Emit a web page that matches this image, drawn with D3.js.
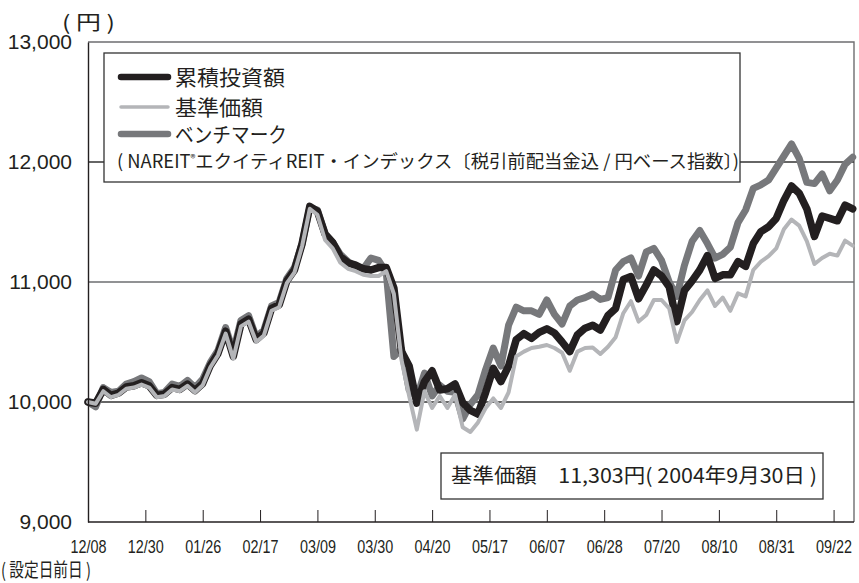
<!DOCTYPE html>
<html>
<head>
<meta charset="utf-8">
<script src="https://cdn.jsdelivr.net/npm/d3@7"></script>
<style>
  body { margin: 0; background: #fff; }
  text { fill: #231f20; }
</style>
</head>
<body>
<svg id="chart" width="859" height="583"></svg>
<script>
// trading-day index of each point (every 2nd day from the day before launch)
var days = d3.range(0, 201, 2);

// x tick positions (every 15 trading days) and their labels
var tickDays = d3.range(0, 196, 15);
var tickLabels = ["12/08","12/30","01/26","02/17","03/09","03/30","04/20",
                  "05/17","06/07","06/28","07/20","08/10","08/31","09/22"];

var yTicks = [9000, 10000, 11000, 12000, 13000];

// 基準価額
var nav = [
  10000, 9985, 10090, 10040, 10060, 10110, 10120, 10145, 10120, 10040,
  10050, 10105, 10090, 10135, 10080, 10140, 10290, 10390, 10570, 10360,
  10630, 10670, 10500, 10555, 10760, 10790, 10990, 11080, 11300, 11610,
  11560, 11350, 11280, 11160, 11110, 11090, 11060, 11050, 11050, 11090,
  10900, 10350, 10050, 9770, 10090, 9950, 10050, 9950, 10060, 9790,
  9750, 9830, 9950, 10030, 9950, 10080, 10380, 10420, 10450, 10460,
  10475, 10450, 10410, 10260, 10420, 10450, 10455, 10400, 10460, 10540,
  10740, 10840, 10670, 10725, 10850, 10850, 10780, 10500, 10680, 10750,
  10850, 10930, 10800, 10870, 10760, 10905, 10880, 11100, 11170, 11215,
  11280, 11440, 11520, 11470, 11340, 11150, 11200, 11235, 11220, 11345,
  11303
];

// 累積投資額
var cumul = [
  10000, 9990, 10105, 10055, 10075, 10125, 10135, 10160, 10135, 10055,
  10065, 10120, 10105, 10150, 10095, 10155, 10305, 10405, 10590, 10380,
  10650, 10690, 10520, 10575, 10780, 10810, 11010, 11100, 11320, 11630,
  11590, 11400, 11330, 11210, 11160, 11140, 11110, 11100, 11120, 11120,
  10950, 10420, 10300, 9990, 10170, 10260, 10100, 10110, 10150, 9995,
  9930, 9900, 10080, 10280, 10170, 10300, 10520, 10570, 10530, 10580,
  10610, 10575, 10500, 10420, 10560, 10615, 10640, 10600, 10720, 10780,
  11020, 11045, 10860, 10975, 11100, 11050, 10960, 10670, 10930, 11010,
  11100, 11220, 11030, 11060, 11060, 11170, 11130, 11320, 11420, 11460,
  11530, 11680, 11800, 11740, 11610, 11380, 11550, 11530, 11510, 11640,
  11610
];

// ベンチマーク
var bench = [
  10000, 9960, 10120, 10080, 10090, 10150, 10170, 10200, 10170, 10070,
  10080, 10150, 10130, 10180, 10120, 10190, 10330, 10430, 10620, 10420,
  10680, 10720, 10540, 10600, 10800, 10830, 11030, 11120, 11320, 11620,
  11600, 11400, 11330, 11230, 11170, 11130, 11110, 11200, 11180, 11080,
  10380, 10440, 10100, 10040, 10240, 10050, 10140, 10090, 10080, 9860,
  9980, 10060, 10270, 10450, 10300, 10640, 10790, 10760, 10760, 10730,
  10850, 10730, 10650, 10800, 10850, 10870, 10900, 10855, 10870, 11100,
  11170, 11200, 11050, 11250, 11280, 11180, 11000, 10880, 11140, 11340,
  11430, 11320, 11200, 11230, 11290, 11495, 11600, 11780, 11810, 11850,
  11950, 12050, 12150, 12030, 11830, 11820, 11900, 11760, 11850, 11980,
  12040
];

var ink = "#231f20", navCol = "#b4b5b8", benchCol = "#77787b";
var jp = "'Noto Sans CJK JP', 'Noto Sans', sans-serif";
var latin = "'Liberation Sans', Arial, sans-serif";
var narrow = "'Liberation Sans Narrow', 'Liberation Sans', Arial, sans-serif";

var svg = d3.select("#chart");
// plot edges (window.top is reserved, so these get a prefix)
var pLeft = 88, pRight = 854, pTop = 42, pBottom = 522;

var x = d3.scaleLinear().domain([0, 200]).range([pLeft, 852.7]);
var y = d3.scaleLinear().domain([9000, 13000]).range([pBottom, pTop]);

// frame (top and right) and grid
svg.append("path")
  .attr("d", "M" + pLeft + "," + pTop + "H" + pRight + "V" + pBottom)
  .attr("fill", "none").attr("stroke", "#6d6e70").attr("stroke-width", 1.4);

svg.append("g").selectAll("line")
  .data([10000, 11000, 12000]).enter()
  .append("line")
  .attr("x1", pLeft).attr("x2", pRight)
  .attr("y1", function(d){ return y(d); })
  .attr("y2", function(d){ return y(d); })
  .attr("stroke", function(d){ return d == 11000 ? "#6d6e70" : "#333"; })
  .attr("stroke-width", 1.3);

// series lines
var line = d3.line()
  .x(function(d, i){ return x(days[i]); })
  .y(function(d){ return y(d); });

var series = [
  {v: bench, c: benchCol, w: 7},
  {v: cumul, c: ink, w: 7.5},
  {v: nav,   c: navCol, w: 4}
];
svg.append("g").selectAll("path")
  .data(series).enter()
  .append("path")
  .attr("d", function(d){ return line(d.v); })
  .attr("fill", "none")
  .attr("stroke", function(d){ return d.c; })
  .attr("stroke-width", function(d){ return d.w; })
  .attr("stroke-linejoin", "round")
  .attr("stroke-linecap", "round");

// axes
var xAxis = d3.axisBottom(x)
  .tickValues(tickDays)
  .tickFormat(function(d, i){ return tickLabels[i]; })
  .tickSizeInner(-12).tickSizeOuter(0).tickPadding(18);
var gx = svg.append("g").attr("transform", "translate(0," + pBottom + ")").call(xAxis);
gx.select(".domain").attr("stroke", ink).attr("stroke-width", 1.4)
  .attr("d", "M" + pLeft + ",0H" + pRight);
gx.selectAll(".tick line").attr("stroke", ink).attr("stroke-width", 1);
gx.selectAll(".tick text")
  .attr("font-family", narrow).attr("font-size", 19).attr("fill", ink)
  .attr("textLength", 36).attr("lengthAdjust", "spacingAndGlyphs");

var yAxis = d3.axisLeft(y)
  .tickValues(yTicks)
  .tickFormat(d3.format(","))
  .tickSize(0).tickPadding(16);
var gy = svg.append("g").attr("transform", "translate(" + pLeft + ",0)").call(yAxis);
gy.select(".domain").attr("stroke", ink).attr("stroke-width", 1.4);
gy.selectAll(".tick text")
  .attr("font-family", latin).attr("font-size", 21).attr("fill", ink);

// legend
var lg = svg.append("g");
lg.append("rect")
  .attr("x", 104).attr("y", 53).attr("width", 636).attr("height", 129)
  .attr("fill", "#fff").attr("stroke", "#333").attr("stroke-width", 1.3);

var legendItems = [
  {t: "累積投資額", c: ink, w: 6.5, y: 77, len: 110},
  {t: "基準価額",   c: navCol, w: 3.5, y: 107, len: 88},
  {t: "ベンチマーク", c: benchCol, w: 6.5, y: 134, len: 112}
];
legendItems.forEach(function(d){
  lg.append("line")
    .attr("x1", 121).attr("x2", 168).attr("y1", d.y).attr("y2", d.y)
    .attr("stroke", d.c).attr("stroke-width", d.w).attr("stroke-linecap", "round");
  lg.append("text")
    .attr("x", 175).attr("y", d.y).attr("dy", "0.36em")
    .attr("font-family", jp).attr("font-size", 21)
    .attr("textLength", d.len).attr("lengthAdjust", "spacingAndGlyphs")
    .text(d.t);
});
var sub = lg.append("text")
  .attr("x", 117).attr("y", 162).attr("dy", "0.36em")
  .attr("font-family", jp).attr("font-size", 18)
  .attr("textLength", 622).attr("lengthAdjust", "spacingAndGlyphs");
sub.append("tspan").text("( NAREIT");
sub.append("tspan").attr("font-size", 10).attr("baseline-shift", "60%").text("®");
sub.append("tspan").text("エクイティREIT・インデックス〔税引前配当金込 / 円ベース指数〕)");

// NAV note
svg.append("rect")
  .attr("x", 441).attr("y", 453).attr("width", 382).attr("height", 46)
  .attr("fill", "#fff").attr("stroke", "#333").attr("stroke-width", 1.3);
svg.append("text")
  .attr("x", 451).attr("y", 476).attr("dy", "0.36em")
  .attr("font-family", jp).attr("font-size", 20)
  .attr("textLength", 366).attr("lengthAdjust", "spacingAndGlyphs")
  .text("基準価額　11,303円( 2004年9月30日 )");

// unit and x caption
svg.append("text")
  .attr("x", 62).attr("y", 23).attr("dy", "0.36em")
  .attr("font-family", jp).attr("font-size", 20)
  .attr("textLength", 53).attr("lengthAdjust", "spacingAndGlyphs")
  .text("( 円 )");
svg.append("text")
  .attr("x", 1).attr("y", 570).attr("dy", "0.36em")
  .attr("font-family", jp).attr("font-size", 19)
  .attr("textLength", 90).attr("lengthAdjust", "spacingAndGlyphs")
  .text("( 設定日前日 )");
</script>
</body>
</html>
